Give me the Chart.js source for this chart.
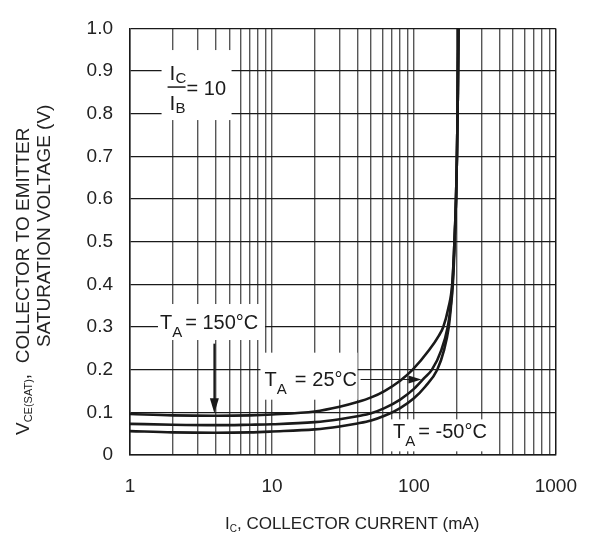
<!DOCTYPE html>
<html>
<head>
<meta charset="utf-8">
<script src="https://cdn.jsdelivr.net/npm/chart.js@4.4.0/dist/chart.umd.min.js"></script>
<style>
  body { margin: 0; background: #fff; }
  #wrap { width: 597px; height: 536px; position: relative; }
</style>
</head>
<body>
<div id="wrap"><canvas id="chart"></canvas></div>
<script>
// collector current (mA) and V_CE(sat) (V)
const ic150 = [1, 2, 4, 7, 10, 20, 30, 40, 50, 62, 80, 98, 128, 150, 161, 175, 186, 193, 198, 201, 204, 206];
const vce150 = [0.096, 0.093, 0.092, 0.093, 0.095, 0.102, 0.113, 0.124, 0.135, 0.150, 0.174, 0.20, 0.246, 0.28, 0.30, 0.345, 0.40, 0.50, 0.60, 0.70, 0.85, 1.0];

const ic25 = [1, 2, 4, 7, 10, 20, 30, 40, 50, 62, 80, 100, 118, 134, 156, 173, 181, 187, 193, 198, 201, 204, 206];
const vce25 = [0.073, 0.071, 0.070, 0.071, 0.072, 0.077, 0.084, 0.091, 0.098, 0.11, 0.13, 0.155, 0.18, 0.20, 0.246, 0.30, 0.345, 0.40, 0.50, 0.60, 0.70, 0.85, 1.0];

const icM50 = [1, 2, 4, 7, 10, 20, 30, 40, 50, 62, 80, 100, 120, 146, 163, 176, 182, 188, 194, 198, 201, 204, 206];
const vceM50 = [0.056, 0.053, 0.052, 0.053, 0.055, 0.060, 0.067, 0.074, 0.081, 0.092, 0.11, 0.133, 0.16, 0.20, 0.246, 0.30, 0.345, 0.40, 0.50, 0.60, 0.70, 0.85, 1.0];

const xGrid = [1, 2, 3, 4, 5, 6, 7, 8, 9, 10, 20, 30, 40, 50, 60, 70, 80, 90, 100, 200, 300, 400, 500, 600, 700, 800, 900, 1000];
const xTickLabels = ['1', '10', '100', '1000'];
const yTicks = [0, 0.1, 0.2, 0.3, 0.4, 0.5, 0.6, 0.7, 0.8, 0.9, 1.0];
const yTickLabels = ['0', '0.1', '0.2', '0.3', '0.4', '0.5', '0.6', '0.7', '0.8', '0.9', '1.0'];

const FONT = '"Liberation Sans", Arial, Helvetica, sans-serif';
const INK = '#1a1a1a';

function toPoints(xs, ys) {
    return xs.map((x, i) => ({ x: x, y: ys[i] }));
}

function curve(xs, ys) {
    return {
        data: toPoints(xs, ys),
        borderColor: INK,
        borderWidth: 2.6,
        pointRadius: 0,
        fill: false,
        cubicInterpolationMode: 'monotone'
    };
}

// draw a sequence of text runs (main text and subscripts) left to right
function runs(ctx, x, y, parts) {
    parts.forEach(p => {
        ctx.font = p.size + 'px ' + FONT;
        ctx.fillText(p.t, x, y + (p.dy || 0));
        x += ctx.measureText(p.t).width + (p.gap || 0);
    });
    return x;
}

function arrowHead(ctx, x, y, dir, len, half) {
    ctx.beginPath();
    if (dir === 'down') {
        ctx.moveTo(x, y);
        ctx.lineTo(x - half, y - len);
        ctx.lineTo(x + half, y - len);
    } else {
        ctx.moveTo(x, y);
        ctx.lineTo(x - len, y - half);
        ctx.lineTo(x - len, y + half);
    }
    ctx.closePath();
    ctx.fill();
}

const labelsPlugin = {
    id: 'labels',
    beforeDatasetsDraw(chart) {
        const ctx = chart.ctx;
        const xs = chart.scales.x, ys = chart.scales.y;
        const P = (a, b) => [xs.getPixelForValue(a), ys.getPixelForValue(b)];
        ctx.save();
        ctx.fillStyle = '#fff';
        let a = P(1.9, 0.9);
        ctx.fillRect(a[0] - 8, a[1] - 21, 70, 70);
        a = P(1.6, 0.3);
        ctx.fillRect(a[0] - 1, a[1] - 23, 107, 36);
        a = P(8.3, 0.2);
        ctx.fillRect(a[0], a[1] - 17, 97, 47);
        a = P(61.6, 0.1);
        ctx.fillRect(a[0], a[1] + 7, 104, 32);
        ctx.restore();
    },
    afterDraw(chart) {
        const ctx = chart.ctx;
        const xs = chart.scales.x, ys = chart.scales.y;
        const P = (a, b) => [xs.getPixelForValue(a), ys.getPixelForValue(b)];
        ctx.save();
        ctx.fillStyle = INK;
        ctx.strokeStyle = INK;
        ctx.textBaseline = 'alphabetic';

        // IC / IB = 10
        let a = P(1.9, 0.9);
        runs(ctx, a[0], a[1] + 9, [{ t: 'I', size: 21 }, { t: 'C', size: 15, dy: 3 }]);
        ctx.lineWidth = 1.5;
        ctx.beginPath();
        ctx.moveTo(a[0] - 2, a[1] + 16);
        ctx.lineTo(a[0] + 16, a[1] + 16);
        ctx.stroke();
        runs(ctx, a[0], a[1] + 39, [{ t: 'I', size: 21 }, { t: 'B', size: 15, dy: 3 }]);
        runs(ctx, a[0] + 17, a[1] + 24, [{ t: '= 10', size: 20 }]);

        // TA = 150°C with arrow
        a = P(1.6, 0.3);
        runs(ctx, a[0] + 1, a[1] + 2, [{ t: 'T', size: 20 }, { t: 'A', size: 15, dy: 8, gap: 3 }, { t: '= 150°C', size: 20 }]);
        let p1 = P(3.93, 0.261), p2 = P(3.93, 0.098);
        ctx.lineWidth = 2;
        ctx.beginPath();
        ctx.moveTo(p1[0], p1[1]);
        ctx.lineTo(p2[0], p2[1] - 10);
        ctx.stroke();
        arrowHead(ctx, p2[0], p2[1], 'down', 15, 4.5);

        // TA = 25°C with arrow
        a = P(8.3, 0.2);
        runs(ctx, a[0] + 4, a[1] + 16, [{ t: 'T', size: 20 }, { t: 'A', size: 15, dy: 8, gap: 8 }, { t: '=', size: 20, gap: 6 }, { t: '25°C', size: 20 }]);
        p1 = P(42.1, 0.177);
        p2 = P(113, 0.177);
        ctx.lineWidth = 1;
        ctx.beginPath();
        ctx.moveTo(p1[0], p1[1]);
        ctx.lineTo(p2[0] - 10, p2[1]);
        ctx.stroke();
        arrowHead(ctx, p2[0], p2[1], 'right', 13, 4);

        // TA = -50°C
        a = P(61.6, 0.1);
        runs(ctx, a[0] + 9, a[1] + 26, [{ t: 'T', size: 20 }, { t: 'A', size: 15, dy: 8, gap: 3 }, { t: '= -50°C', size: 20 }]);

        // x axis title
        ctx.fillStyle = '#222';
        runs(ctx, 225, 529, [{ t: 'I', size: 17 }, { t: 'C', size: 10, dy: 3 }, { t: ', COLLECTOR CURRENT (mA)', size: 17 }]);

        // y axis title, two rotated lines
        ctx.save();
        ctx.rotate(-Math.PI / 2);
        runs(ctx, -435, 29, [{ t: 'V', size: 19 }, { t: 'CE(SAT)', size: 11, dy: 3 }, { t: ',  COLLECTOR TO EMITTER', size: 19 }]);
        runs(ctx, -347, 50, [{ t: 'SATURATION VOLTAGE (V)', size: 19 }]);
        ctx.restore();

        ctx.restore();
    }
};

new Chart(document.getElementById('chart'), {
    type: 'line',
    data: {
        datasets: [curve(ic150, vce150), curve(ic25, vce25), curve(icM50, vceM50)]
    },
    options: {
        responsive: true,
        maintainAspectRatio: false,
        animation: false,
        layout: { padding: { top: 15, right: 33, left: 0, bottom: 0 } },
        plugins: { legend: { display: false }, tooltip: { enabled: false } },
        scales: {
            x: {
                type: 'logarithmic',
                min: 1,
                max: 1000,
                afterBuildTicks: s => { s.ticks = xGrid.map(v => ({ value: v })); },
                afterFit: s => { s.height = 81; },
                ticks: {
                    autoSkip: false,
                    maxRotation: 0,
                    padding: 20,
                    color: '#222',
                    font: { family: FONT, size: 19 },
                    callback: v => xTickLabels.includes(String(v)) ? String(v) : ''
                },
                grid: {
                    drawTicks: false,
                    color: c => (c.tick && c.tick.value === 1000) ? INK : '#575757',
                    lineWidth: c => (c.tick && c.tick.value === 1000) ? 1.5 : 1.4
                },
                border: { display: true, color: INK, width: 1.5 }
            },
            y: {
                type: 'linear',
                min: 0,
                max: 1,
                afterBuildTicks: s => { s.ticks = yTicks.map(v => ({ value: v })); },
                afterFit: s => { s.width = 130; },
                ticks: {
                    padding: 17,
                    color: '#222',
                    font: { family: FONT, size: 19 },
                    callback: (v, i) => yTickLabels[i]
                },
                grid: { drawTicks: false, color: INK, lineWidth: 1.3 },
                border: { display: true, color: INK, width: 1.5 }
            }
        }
    },
    plugins: [labelsPlugin]
});
</script>
</body>
</html>
